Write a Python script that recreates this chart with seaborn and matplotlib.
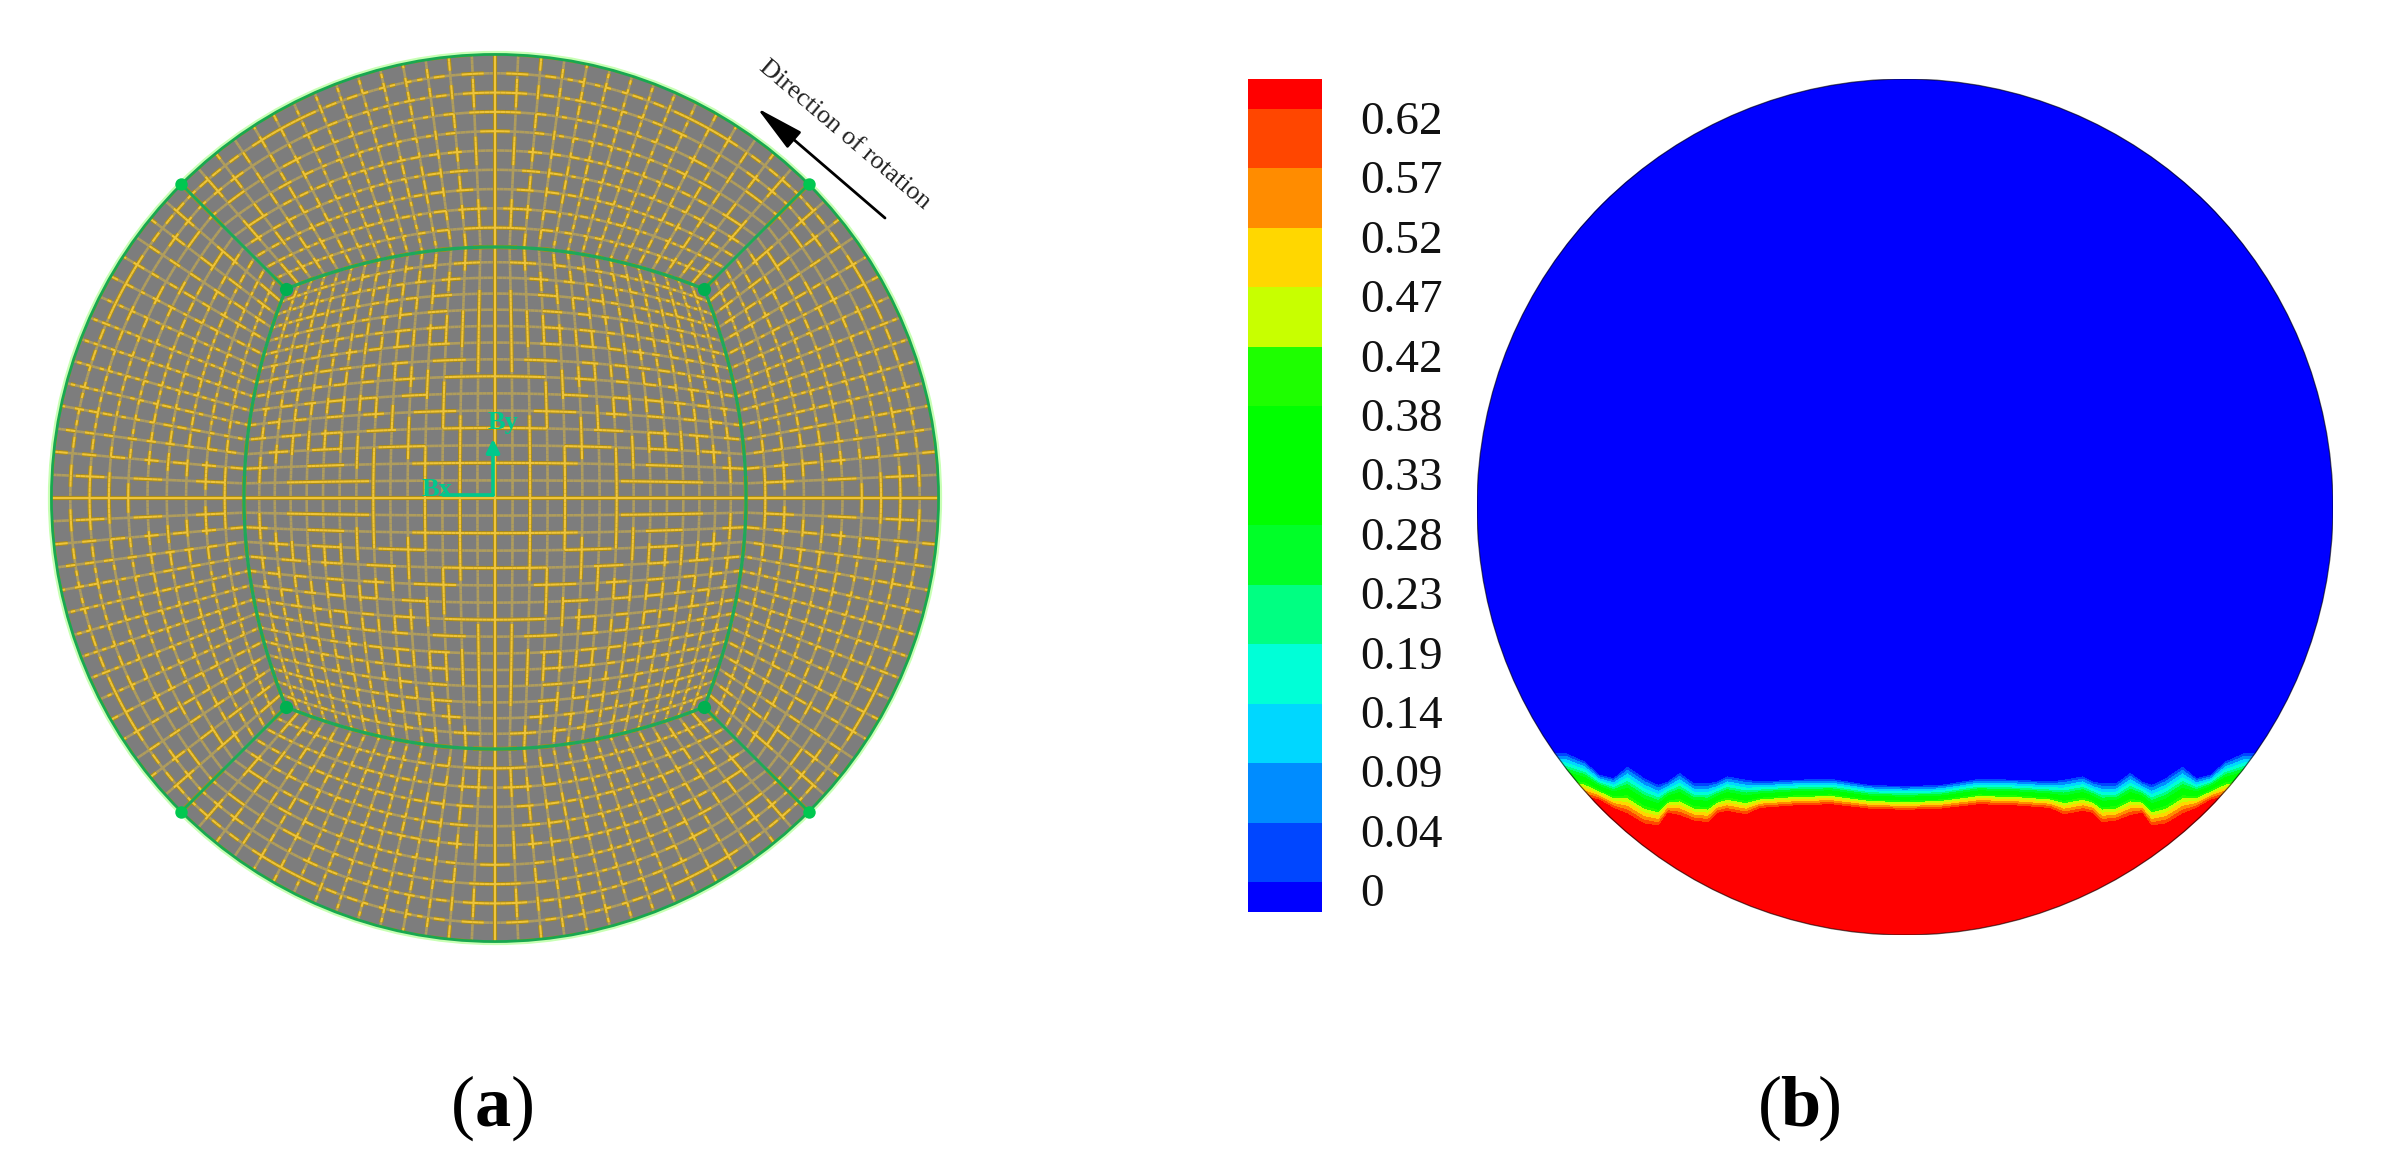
import numpy as np
import matplotlib
matplotlib.use("Agg")
import matplotlib.pyplot as plt
import seaborn as sns
from matplotlib.collections import LineCollection
from matplotlib.colors import BoundaryNorm, ListedColormap
from matplotlib.patches import Circle, FancyArrowPatch

# Contour legend values and band colours (bottom to top)
level_labels = ['0', '0.04', '0.09', '0.14', '0.19', '0.23', '0.28', '0.33',
                '0.38', '0.42', '0.47', '0.52', '0.57', '0.62']
level_values = [0, 0.04, 0.09, 0.14, 0.19, 0.23, 0.28, 0.33,
                0.38, 0.42, 0.47, 0.52, 0.57, 0.62]
band_colors = ['#0000ff', '#0046ff', '#008cff', '#00d7ff', '#00ffd7', '#00ff82',
               '#00ff28', '#00ff00', '#00ff00', '#1eff00', '#c8ff00', '#ffd700',
               '#ff8c00', '#ff4600', '#ff0000']

# Phase interface, in units of the pipe radius
front_x = [-0.793, -0.749, -0.715, -0.682, -0.649, -0.610, -0.577, -0.555, -0.527,
           -0.494, -0.461, -0.439, -0.416, -0.372, -0.339, -0.261, -0.173, -0.084,
           0.0, 0.084, 0.173, 0.261, 0.339, 0.372, 0.416, 0.439, 0.461, 0.494,
           0.527, 0.555, 0.577, 0.610, 0.649, 0.682, 0.715, 0.749, 0.793]
front_top = [-0.576, -0.595, -0.626, -0.634, -0.607, -0.634, -0.650, -0.642, -0.622,
             -0.646, -0.646, -0.642, -0.630, -0.638, -0.642, -0.638, -0.636, -0.650,
             -0.653, -0.650, -0.636, -0.638, -0.642, -0.638, -0.630, -0.642, -0.646,
             -0.646, -0.622, -0.642, -0.650, -0.634, -0.607, -0.634, -0.626, -0.595,
             -0.576]
front_bottom = [-0.677, -0.681, -0.688, -0.708, -0.724, -0.747, -0.751, -0.720, -0.727,
                -0.739, -0.743, -0.720, -0.716, -0.724, -0.708, -0.702, -0.699, -0.709,
                -0.712, -0.709, -0.699, -0.702, -0.708, -0.724, -0.716, -0.720, -0.743,
                -0.739, -0.727, -0.720, -0.751, -0.747, -0.724, -0.708, -0.688, -0.681,
                -0.677]

# Mesh counts of the O-grid in panel (a)
n_core = 30
n_radial = 10

W, H = 2387, 1170
MESH_R = 444.0
SUB = 4  # pieces per mesh cell, for the broken look of the lines


def px_box(x0, y0, x1, y1):
    """Axes rectangle from picture pixels (y pointing down)."""
    return [x0 / W, 1 - y1 / H, (x1 - x0) / W, (y1 - y0) / H]


def stretch(s):
    return s * (1.05 - 0.05 * s ** 2)


def build_mesh():
    """Node grids of the core block and the four outer blocks."""
    a, b = 209 / MESH_R, 42 / MESH_R
    fine = np.linspace(-1, 1, SUB * n_core + 1)
    su = stretch(fine)
    u, v = np.meshgrid(su, su, indexing='ij')
    grids = [(u * (a + b * (1 - v ** 2)), v * (a + b * (1 - u ** 2)))]

    radial = np.linspace(0, 1, SUB * n_radial + 1)
    ang = fine * np.pi / 4
    ix, iy = a + b * (1 - su ** 2), su * a
    ox, oy = np.cos(ang), np.sin(ang)
    rx = np.outer(1 - radial, ix) + np.outer(radial, ox)
    ry = np.outer(1 - radial, iy) + np.outer(radial, oy)
    for k in range(4):
        c, s = np.cos(k * np.pi / 2), np.sin(k * np.pi / 2)
        grids.append((c * rx - s * ry, s * rx + c * ry))
    return grids


def grid_segments(gx, gy):
    segs = []
    for i in range(0, gx.shape[0], SUB):
        pts = np.column_stack([gx[i], gy[i]])
        segs.append(np.stack([pts[:-1], pts[1:]], axis=1))
    for j in range(0, gx.shape[1], SUB):
        pts = np.column_stack([gx[:, j], gy[:, j]])
        segs.append(np.stack([pts[:-1], pts[1:]], axis=1))
    return np.concatenate(segs)


def draw_mesh(ax):
    ax.add_patch(Circle((0, 0), 1.0, fc='#7d7d7d', ec='none', zorder=1))
    segs = np.concatenate([grid_segments(*g) for g in build_mesh()])

    # the source picture was low resolution, lines only come out bright
    # where they happen to sit on its pixel grid
    mid = segs.mean(axis=1) * MESH_R
    d = np.abs(segs[:, 1] - segs[:, 0])
    across = np.where(d[:, 1] >= d[:, 0], mid[:, 0], mid[:, 1])
    bright = 0.5 + 0.5 * np.cos(2 * np.pi * across / 2.7) > 0.55

    ax.add_collection(LineCollection(segs[~bright], colors='#b09d5c', linewidths=1.9, zorder=2))
    ax.add_collection(LineCollection(segs[bright], colors='#b08e12', linewidths=3.0, zorder=3,
                                     capstyle='butt'))
    ax.add_collection(LineCollection(segs[bright], colors='#eec43c', linewidths=1.5, zorder=4,
                                     capstyle='butt'))

    # block edges in green
    a, b = 209 / MESH_R, 42 / MESH_R
    s = np.linspace(-1, 1, 80)
    ex, ey = a + b * (1 - s ** 2), s * a
    edge_col = '#1fa85a'
    for k in range(4):
        c, sn = np.cos(k * np.pi / 2), np.sin(k * np.pi / 2)
        ax.plot(c * ex - sn * ey, sn * ex + c * ey, color=edge_col, lw=2.4, zorder=5)
        q = (k + 0.5) * np.pi / 2
        ax.plot([a * np.sqrt(2) * np.cos(q), np.cos(q)], [a * np.sqrt(2) * np.sin(q), np.sin(q)],
                color=edge_col, lw=2.2, zorder=5)

    ax.add_patch(Circle((0, 0), 1.003, fc='none', ec='#c8ffb4', lw=2.6, zorder=6))
    ax.add_patch(Circle((0, 0), 0.999, fc='none', ec='#18a850', lw=2.0, zorder=7))

    for k in range(4):
        q = (k + 0.5) * np.pi / 2
        ax.scatter([a * np.sqrt(2) * np.cos(q)], [a * np.sqrt(2) * np.sin(q)], s=90,
                   color='#00b050', zorder=9, linewidths=0)
        ax.scatter([np.cos(q)], [np.sin(q)], s=80, color='#00c850', zorder=9, linewidths=0)

    # coordinate triad at the pipe centre
    triad = '#00c88c'
    ox, oy = -2 / MESH_R, 3 / MESH_R
    ax.annotate('', xy=(ox, oy + 56 / MESH_R), xytext=(ox, oy), zorder=10,
                arrowprops=dict(arrowstyle='-|>', color=triad, lw=2.6, mutation_scale=20, shrinkA=0, shrinkB=0))
    ax.plot([ox - 50 / MESH_R, ox], [oy, oy], color=triad, lw=2.6, zorder=10)
    ax.text(8 / MESH_R, 75 / MESH_R, 'By', color=triad, fontsize=19, fontweight='bold',
            ha='center', va='center', zorder=10)
    ax.text(-58 / MESH_R, 8 / MESH_R, 'Bx', color=triad, fontsize=19, fontweight='bold',
            ha='center', va='center', zorder=10)


def draw_field(ax, cmap, norm):
    n = 856
    xs = np.linspace(-1, 1, n)
    ys = np.linspace(1, -1, n)
    top = np.interp(xs, front_x, front_top)
    bottom = np.interp(xs, front_x, front_bottom)
    yy = ys[:, None]
    frac = (top[None, :] - yy) / (top - bottom)[None, :]
    field = np.clip(frac, -0.03, 1.0) * 0.66

    sns.heatmap(field, ax=ax, cmap=cmap, norm=norm, cbar=False, square=False,
                xticklabels=False, yticklabels=False, rasterized=True)
    clip = Circle((n / 2, n / 2), n / 2, transform=ax.transData)
    ax.collections[0].set_clip_path(clip)
    ax.add_patch(Circle((n / 2, n / 2), n / 2, fc='none', ec='#000000', lw=0.9, alpha=0.6))
    ax.axis('off')


def draw_legend(ax, cmap, norm, edges):
    mids = [(edges[i] + edges[i + 1]) / 2 for i in range(len(edges) - 1)]
    counts = [1] + [2] * (len(mids) - 2) + [1]
    column = np.repeat(mids, counts)[::-1].reshape(-1, 1)
    sns.heatmap(column, ax=ax, cmap=cmap, norm=norm, cbar=False,
                xticklabels=False, yticklabels=False)
    ax.axis('off')


if __name__ == "__main__":
    sns.set_theme(style='white')
    plt.rcParams['font.family'] = ['Liberation Serif', 'DejaVu Serif']

    fig = plt.figure(figsize=(W / 100, H / 100), dpi=100, facecolor='white')

    edges = [-0.04] + level_values + [0.70]
    cmap = ListedColormap(band_colors)
    norm = BoundaryNorm(edges, cmap.N)

    # Panel (a): mesh
    span = 1.08 * MESH_R
    ax_mesh = fig.add_axes(px_box(495 - span, 498 - span, 495 + span, 498 + span))
    ax_mesh.set_xlim(-1.08, 1.08)
    ax_mesh.set_ylim(-1.08, 1.08)
    ax_mesh.axis('off')
    draw_mesh(ax_mesh)

    # Panel (b): legend and contour
    ax_bar = fig.add_axes(px_box(1248, 79, 1322, 912))
    draw_legend(ax_bar, cmap, norm, edges)
    ax_field = fig.add_axes(px_box(1477, 79, 2333, 935))
    draw_field(ax_field, cmap, norm)

    for i, label in enumerate(level_labels):
        fig.text(1360 / W, 1 - (895 - i * 59.4) / H, label, fontsize=34, color='#111111',
                 ha='left', va='center')

    # rotation note
    fig.text(845 / W, 1 - 135 / H, 'Direction of rotation', fontsize=19, color='#222222',
             rotation=-40.4, rotation_mode='anchor', ha='center', va='center')
    fig.add_artist(FancyArrowPatch(
        (885 / W, 1 - 218 / H), (757 / W, 1 - 108 / H), transform=fig.transFigure,
        arrowstyle='-|>,head_length=1.0,head_width=0.22', mutation_scale=30,
        color='black', lw=2, shrinkA=0, shrinkB=0))

    # Panel captions
    for cx, letter in [(493, 'a'), (1800, 'b')]:
        fig.text((cx - 18) / W, 1 - 1126 / H, '(', fontsize=52, ha='right', va='baseline', color='black')
        fig.text(cx / W, 1 - 1126 / H, letter, fontsize=52, ha='center', va='baseline',
                 color='black', fontweight='bold')
        fig.text((cx + 18) / W, 1 - 1126 / H, ')', fontsize=52, ha='left', va='baseline', color='black')

    fig.savefig('out.png', dpi=100, facecolor='white')
